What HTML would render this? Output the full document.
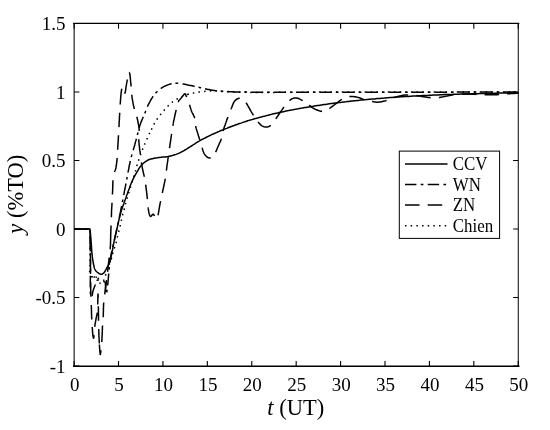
<!DOCTYPE html>
<html><head><meta charset="utf-8"><style>
html,body{margin:0;padding:0;background:#fff;width:550px;height:430px;overflow:hidden}
svg{display:block}
</style></head><body>
<svg width="550" height="430" viewBox="0 0 550 430">
<rect width="550" height="430" fill="#fff"/>
<g fill="none" stroke="#000" stroke-width="1.5" stroke-linejoin="round" stroke-linecap="butt">
<path d="M74.0,229.0 L90.0,229.0 L90.1,230.4 L90.3,231.7 L90.4,233.1 L90.5,234.4 L90.6,235.8 L90.8,237.2 L90.9,238.6 L91.0,240.0 L91.1,241.3 L91.2,242.7 L91.3,244.2 L91.4,245.6 L91.5,247.1 L91.6,248.5 L91.7,250.0 L91.8,251.4 L91.9,252.7 L92.0,254.0 L92.2,255.4 L92.3,256.8 L92.5,258.1 L92.7,259.3 L92.9,260.6 L93.1,261.8 L93.3,263.0 L93.6,264.5 L93.9,266.0 L94.2,267.4 L94.6,268.7 L95.1,269.8 L95.7,270.7 L96.3,271.4 L97.0,272.0 L97.8,272.6 L98.6,273.2 L99.4,273.7 L100.3,274.1 L101.1,274.3 L101.8,274.2 L102.5,273.9 L103.2,273.4 L103.8,272.9 L104.6,272.0 L105.2,270.9 L105.9,269.7 L106.5,268.5 L107.1,267.5 L107.6,266.4 L108.2,265.4 L108.7,264.2 L109.2,263.0 L109.6,261.6 L110.1,260.3 L110.5,258.8 L110.9,257.4 L111.2,256.0 L111.6,254.6 L111.8,253.2 L112.1,251.7 L112.4,250.3 L112.7,248.8 L113.0,247.3 L113.3,245.9 L113.5,244.4 L113.8,242.9 L114.1,241.5 L114.4,240.0 L114.7,238.6 L115.0,237.2 L115.4,235.8 L115.7,234.4 L116.1,233.0 L116.4,231.5 L116.7,230.1 L117.0,228.7 L117.3,227.3 L117.6,225.8 L117.9,224.4 L118.3,222.9 L118.6,221.4 L118.9,220.1 L119.2,218.7 L119.6,217.4 L119.9,216.0 L120.3,214.6 L120.7,213.2 L121.0,211.9 L121.4,210.6 L121.8,209.3 L122.2,207.9 L122.7,206.5 L123.2,205.2 L123.7,203.9 L124.1,202.6 L124.6,201.3 L125.1,200.0 L125.6,198.6 L126.1,197.3 L126.5,195.9 L127.0,194.6 L127.5,193.2 L128.0,191.8 L128.5,190.5 L129.0,189.2 L129.5,187.9 L129.9,186.6 L130.4,185.3 L130.9,184.1 L131.4,182.8 L132.0,181.5 L132.5,180.3 L133.1,179.1 L133.7,177.9 L134.3,176.7 L135.0,175.5 L135.6,174.3 L136.3,173.2 L136.9,172.1 L137.7,170.8 L138.4,169.5 L139.2,168.2 L140.0,167.0 L140.9,165.9 L141.8,164.8 L142.9,163.7 L144.0,162.7 L145.2,161.8 L146.4,161.0 L147.6,160.3 L148.7,159.8 L149.9,159.3 L151.0,159.0 L152.2,158.7 L153.5,158.4 L154.7,158.1 L156.0,157.9 L157.4,157.8 L158.7,157.6 L160.0,157.5 L161.3,157.3 L162.7,157.1 L164.0,157.0 L165.3,156.9 L166.6,156.7 L168.0,156.5 L169.3,156.2 L170.6,155.9 L172.0,155.6 L173.3,155.2 L174.7,154.8 L176.0,154.4 L177.3,153.9 L178.6,153.4 L179.9,152.8 L181.1,152.2 L182.3,151.5 L183.6,150.8 L185.0,150.0 L186.1,149.4 L187.2,148.7 L188.4,147.9 L189.6,147.1 L190.9,146.3 L192.2,145.5 L193.5,144.6 L194.8,143.8 L196.1,142.9 L197.4,142.1 L198.7,141.3 L200.0,140.6 L201.2,139.9 L202.5,139.3 L203.7,138.6 L205.0,138.0 L206.2,137.3 L207.5,136.7 L208.7,136.1 L210.0,135.5 L211.2,134.9 L212.5,134.3 L213.7,133.8 L215.0,133.2 L216.4,132.6 L217.7,132.0 L219.1,131.4 L220.4,130.8 L221.8,130.3 L223.2,129.7 L224.5,129.1 L225.9,128.6 L227.3,128.1 L228.6,127.5 L230.0,127.0 L231.4,126.5 L232.7,126.0 L234.1,125.5 L235.4,125.0 L236.8,124.5 L238.2,124.0 L239.5,123.5 L240.9,123.1 L242.3,122.6 L243.6,122.1 L245.0,121.7 L246.4,121.3 L247.7,120.8 L249.1,120.4 L250.4,120.0 L251.8,119.6 L253.2,119.2 L254.5,118.8 L255.9,118.4 L257.3,118.1 L258.6,117.7 L260.0,117.3 L261.4,116.9 L262.7,116.6 L264.1,116.2 L265.4,115.9 L266.8,115.5 L268.2,115.2 L269.5,114.8 L270.9,114.5 L272.3,114.1 L273.6,113.8 L275.0,113.5 L276.4,113.2 L277.7,112.9 L279.1,112.6 L280.4,112.3 L281.8,112.0 L283.2,111.7 L284.5,111.4 L285.9,111.1 L287.3,110.8 L288.6,110.6 L290.0,110.3 L291.4,110.0 L292.7,109.8 L294.1,109.5 L295.5,109.3 L296.8,109.0 L298.2,108.8 L299.5,108.5 L300.9,108.3 L302.3,108.1 L303.6,107.8 L305.0,107.6 L306.4,107.4 L307.7,107.1 L309.1,106.9 L310.5,106.7 L311.8,106.5 L313.2,106.3 L314.5,106.0 L315.9,105.8 L317.3,105.6 L318.6,105.4 L320.0,105.2 L321.4,105.0 L322.7,104.8 L324.1,104.6 L325.5,104.4 L326.8,104.2 L328.2,104.0 L329.5,103.8 L330.9,103.6 L332.3,103.5 L333.6,103.3 L335.0,103.1 L336.4,102.9 L337.7,102.8 L339.1,102.6 L340.5,102.4 L341.8,102.3 L343.2,102.1 L344.5,101.9 L345.9,101.8 L347.3,101.6 L348.6,101.5 L350.0,101.3 L351.4,101.1 L352.7,101.0 L354.1,100.8 L355.5,100.7 L356.8,100.5 L358.2,100.4 L359.5,100.3 L360.9,100.1 L362.3,100.0 L363.6,99.8 L365.0,99.7 L366.4,99.6 L367.7,99.4 L369.1,99.3 L370.5,99.2 L371.8,99.1 L373.2,99.0 L374.5,98.9 L375.9,98.7 L377.3,98.6 L378.6,98.5 L380.0,98.4 L381.4,98.3 L382.7,98.2 L384.1,98.1 L385.5,97.9 L386.8,97.8 L388.2,97.7 L389.5,97.6 L390.9,97.5 L392.3,97.4 L393.6,97.3 L395.0,97.2 L396.4,97.1 L397.7,97.0 L399.1,96.9 L400.5,96.8 L401.8,96.8 L403.2,96.7 L404.5,96.6 L405.9,96.5 L407.3,96.5 L408.6,96.4 L410.0,96.3 L411.4,96.2 L412.7,96.1 L414.1,96.1 L415.5,96.0 L416.8,95.9 L418.2,95.9 L419.5,95.8 L420.9,95.7 L422.3,95.6 L423.6,95.6 L425.0,95.5 L426.4,95.4 L427.7,95.4 L429.1,95.3 L430.5,95.2 L431.8,95.2 L433.2,95.1 L434.5,95.0 L435.9,95.0 L437.3,94.9 L438.6,94.9 L440.0,94.8 L441.4,94.7 L442.7,94.7 L444.1,94.6 L445.5,94.6 L446.8,94.6 L448.2,94.5 L449.5,94.5 L450.9,94.4 L452.3,94.4 L453.6,94.3 L455.0,94.3 L456.4,94.3 L457.7,94.2 L459.1,94.2 L460.5,94.1 L461.8,94.1 L463.2,94.1 L464.5,94.0 L465.9,94.0 L467.3,94.0 L468.6,93.9 L470.0,93.9 L471.4,93.9 L472.7,93.8 L474.1,93.8 L475.5,93.8 L476.8,93.7 L478.2,93.7 L479.5,93.6 L480.9,93.6 L482.3,93.6 L483.6,93.5 L485.0,93.5 L486.4,93.5 L487.7,93.4 L489.1,93.4 L490.4,93.4 L491.7,93.3 L493.1,93.3 L494.4,93.3 L495.8,93.2 L497.2,93.2 L498.6,93.1 L500.0,93.1 L501.3,93.1 L502.7,93.0 L504.1,93.0 L505.5,92.9 L506.9,92.9 L508.3,92.8 L509.7,92.8 L511.2,92.7 L512.6,92.7 L514.0,92.6 L515.5,92.6 L516.9,92.5 L518.3,92.5"/>
<path d="M74.0,229.0 L79.8,229.0 M83.7,229.0 L86.4,229.0 M90.0,229.8 L90.0,230.4 L90.0,231.9 L90.1,233.3 L90.1,234.7 L90.1,236.2 L90.1,237.6 L90.2,239.0 L90.2,240.4 L90.2,241.7 M90.3,245.6 L90.3,246.2 L90.3,247.6 L90.3,248.3 M90.4,252.8 L90.4,253.3 L90.4,254.8 L90.4,256.2 L90.4,257.6 L90.5,259.1 L90.5,260.5 L90.5,262.0 L90.5,263.5 L90.5,264.7 M90.5,268.6 L90.5,270.4 L90.5,271.3 M90.4,275.7 L90.4,276.1 L90.4,278.0 L90.3,279.9 L90.3,281.8 L90.3,283.6 L90.3,285.4 L90.3,287.1 L90.3,287.6 M90.3,291.5 L90.3,291.6 L90.4,292.9 L90.4,294.0 L90.4,294.2 M92.0,295.9 L92.2,295.4 L92.4,294.6 L92.5,293.8 L92.6,292.8 L92.8,291.9 L93.0,291.0 L93.3,290.1 L93.6,289.2 L93.9,288.3 L94.3,287.3 L94.6,286.4 L95.0,285.5 L95.4,284.5 M96.8,280.9 L97.0,280.5 L97.5,280.0 L97.8,279.9 L98.1,280.0 L98.5,280.1 L98.8,280.2 L98.9,280.3 M103.2,281.4 L103.5,281.5 L103.8,281.6 L104.0,281.6 L104.3,281.6 L104.6,281.7 L104.8,281.8 L105.0,282.0 L105.2,282.5 L105.4,283.2 L105.4,284.1 L105.5,285.1 L105.5,286.1 L105.5,287.0 L105.5,288.3 L105.6,289.7 L105.5,291.3 L105.6,291.9 M106.6,292.5 L106.7,292.2 L106.9,291.1 L107.1,289.9 L107.1,289.8 M107.6,285.4 L107.6,285.0 L107.8,284.0 L107.9,283.0 L108.0,282.0 L108.1,281.0 L108.2,280.0 L108.3,278.7 L108.4,277.5 L108.5,276.1 L108.6,274.8 L108.7,273.5 M109.0,269.7 L109.1,269.2 L109.3,267.8 L109.4,267.0 M109.9,262.6 L110.0,262.0 L110.2,260.6 L110.4,259.1 L110.6,257.7 L110.9,256.2 L111.1,254.8 L111.3,253.4 L111.6,252.0 L111.8,250.8 M112.7,247.0 L112.7,246.9 L113.0,245.6 L113.3,244.4 M114.3,240.0 L114.5,239.1 L114.8,237.8 L115.1,236.5 L115.4,235.2 L115.7,233.8 L116.0,232.5 L116.3,231.1 L116.6,229.8 L116.9,228.5 M117.8,224.7 L117.9,224.3 L118.2,222.9 L118.4,222.0 M119.3,217.7 L119.3,217.4 L119.6,216.0 L119.9,214.6 L120.2,213.2 L120.5,211.8 L120.7,210.4 L121.0,209.0 L121.3,207.6 L121.6,206.1 L121.6,206.0 M122.3,202.1 L122.4,201.8 L122.7,200.3 L122.8,199.5 M123.7,195.1 L123.8,194.6 L124.1,193.2 L124.3,191.8 L124.6,190.4 L124.9,189.0 L125.2,187.6 L125.5,186.2 L125.7,184.9 L126.0,183.5 L126.0,183.5 M126.7,179.6 L126.8,179.3 L127.0,177.9 L127.2,177.0 M128.0,172.6 L128.0,172.5 L128.3,171.0 L128.6,169.6 L128.9,168.1 L129.1,166.6 L129.4,165.2 L129.7,163.8 L130.0,162.5 L130.3,161.2 L130.4,160.9 M131.3,157.1 L131.4,156.5 L131.7,155.4 L131.9,154.5 M133.2,150.3 L133.4,149.6 L133.7,148.4 L134.1,147.1 L134.5,145.8 L134.9,144.4 L135.2,143.0 L135.6,141.6 L136.0,140.3 L136.3,139.1 L136.4,138.8 M137.4,135.0 L137.4,134.7 L137.7,133.6 L138.0,132.5 L138.0,132.4 M139.1,128.1 L139.3,127.5 L139.6,126.3 L140.0,125.0 L140.5,123.7 L141.0,122.3 L141.6,120.9 L142.1,119.6 L142.7,118.3 L143.2,117.1 L143.3,116.9 M144.8,113.4 L145.0,112.9 L145.3,112.1 L145.6,111.2 L145.8,110.8 M147.4,106.7 L147.8,105.8 L148.2,104.9 L148.6,104.1 L149.1,103.2 L149.5,102.4 L150.0,101.5 L150.5,100.6 L151.0,99.7 L151.5,98.8 L152.1,97.9 L152.6,97.0 L153.1,96.3 M155.5,93.2 L155.9,92.8 L156.5,92.2 L157.2,91.5 L157.4,91.3 M160.7,88.5 L161.0,88.3 L161.8,87.8 L162.6,87.3 L163.4,86.8 L164.3,86.4 L165.1,86.0 L166.0,85.6 L166.9,85.2 L167.8,84.9 L168.7,84.6 L169.6,84.3 L170.6,84.0 L171.5,83.8 L171.6,83.8 M175.4,83.3 L176.1,83.3 L177.0,83.3 L178.0,83.3 L178.1,83.4 M182.5,83.9 L183.0,84.0 M183.0,84.0 L183.9,84.1 L184.7,84.3 L185.5,84.5 L186.3,84.6 L187.1,84.8 L188.0,85.0 L189.0,85.2 L190.0,85.4 L191.0,85.6 L192.0,85.8 L193.0,86.0 L194.0,86.2 L194.7,86.3 M198.5,87.3 L198.6,87.3 L199.5,87.5 L200.4,87.7 L201.1,87.9 M205.0,88.8 L206.0,89.0 L207.0,89.2 L208.0,89.4 L209.0,89.6 L210.0,89.8 L211.0,90.0 L212.0,90.2 L212.9,90.3 L213.9,90.4 L214.8,90.6 L215.9,90.7 L216.7,90.8 M220.6,91.1 L220.9,91.1 L222.4,91.3 L223.3,91.3 M227.7,91.6 L228.5,91.6 L228.6,91.6 M228.6,91.6 L230.0,91.7 L231.3,91.8 L232.4,91.8 L233.5,91.9 L234.6,91.9 L235.7,91.9 L236.9,92.0 L238.1,92.0 L239.5,92.0 L240.5,92.0 M244.4,92.1 L245.0,92.1 L245.6,92.1 L246.2,92.1 L246.8,92.1 L247.1,92.1 M251.3,92.2 L251.7,92.2 L252.4,92.2 L253.2,92.2 L254.0,92.2 L254.8,92.2 L255.7,92.2 L256.5,92.2 L257.4,92.2 L258.3,92.2 L259.2,92.2 L260.2,92.2 L261.1,92.2 L262.1,92.2 L263.1,92.2 L263.2,92.2 M267.1,92.2 L267.1,92.2 L268.2,92.3 L269.3,92.3 L269.8,92.3 M274.2,92.3 L274.9,92.3 L276.1,92.3 L277.2,92.3 L278.4,92.3 L279.6,92.3 L280.9,92.3 L282.1,92.3 L283.4,92.3 L284.6,92.3 L285.9,92.3 L286.1,92.3 M290.0,92.3 L291.1,92.3 L292.5,92.3 L292.7,92.3 M297.1,92.3 L298.0,92.3 L299.4,92.3 L300.8,92.3 L302.2,92.3 L303.6,92.3 L305.1,92.3 L306.5,92.3 L308.0,92.3 L309.0,92.3 M312.9,92.3 L314.0,92.3 L315.5,92.3 L315.6,92.3 M320.0,92.3 L320.1,92.3 L321.7,92.3 L323.2,92.3 L324.8,92.3 L326.4,92.3 L328.0,92.3 L329.6,92.3 L331.2,92.3 L331.9,92.3 M335.8,92.3 L336.1,92.3 L337.7,92.3 L338.5,92.3 M342.9,92.3 L344.3,92.3 L346.0,92.3 L347.7,92.3 L349.4,92.3 L351.0,92.3 L352.7,92.3 L354.5,92.3 L354.8,92.3 M358.7,92.3 L359.6,92.3 L361.3,92.3 L361.4,92.3 M366.1,92.3 L366.5,92.3 L368.3,92.3 L370.0,92.3 L371.8,92.3 L373.5,92.3 L375.3,92.3 L377.0,92.3 L378.0,92.3 M381.9,92.2 L382.4,92.2 L384.1,92.2 L384.6,92.2 M389.3,92.2 L389.5,92.2 L391.3,92.2 L393.1,92.2 L394.9,92.2 L396.6,92.2 L398.4,92.2 L400.2,92.2 L401.2,92.2 M405.1,92.2 L405.6,92.2 L407.4,92.2 L407.8,92.2 M412.0,92.2 L412.8,92.2 L414.6,92.2 L416.4,92.2 L418.2,92.2 L420.0,92.2 L421.8,92.2 L423.6,92.2 L423.9,92.2 M427.8,92.2 L429.0,92.2 L430.5,92.2 M435.2,92.2 L436.2,92.2 L438.0,92.2 L439.8,92.2 L441.6,92.2 L443.4,92.2 L445.1,92.2 L446.9,92.2 L447.1,92.2 M451.0,92.2 L452.2,92.2 L453.7,92.1 M457.9,92.1 L459.3,92.1 L461.0,92.1 L462.8,92.1 L464.5,92.1 L466.2,92.1 L468.0,92.1 L469.7,92.1 L469.8,92.1 M473.7,92.1 L474.8,92.1 L476.4,92.1 M480.9,92.1 L481.6,92.1 L483.3,92.1 L485.0,92.1 L486.6,92.1 L488.3,92.1 L489.9,92.1 L491.6,92.1 L492.8,92.1 M496.7,92.1 L498.1,92.1 L499.4,92.1 M503.9,92.1 L504.5,92.1 L506.0,92.1 L507.6,92.1 L509.2,92.1 L510.7,92.1 L512.2,92.1 L513.8,92.1 L515.3,92.1 L515.8,92.1"/>
<path d="M75.2,229.0 L89.7,229.0 M90.1,236.9 L90.1,237.6 L90.1,239.0 L90.1,240.4 L90.2,241.9 L90.2,243.3 L90.2,244.7 L90.2,246.2 L90.2,247.6 L90.2,249.0 L90.3,250.4 L90.3,251.4 M90.4,259.6 L90.4,260.5 L90.4,262.0 L90.4,263.5 L90.4,265.0 L90.5,266.5 L90.5,268.1 L90.5,269.6 L90.5,271.3 L90.5,272.9 L90.5,274.1 M90.6,282.3 L90.6,282.6 L90.7,284.1 L90.7,285.6 L90.7,287.1 L90.7,288.6 L90.7,290.0 L90.8,291.3 L90.8,292.6 L90.8,293.8 L90.8,294.9 L90.9,296.0 L90.9,296.8 M91.3,305.0 L91.3,306.3 L91.4,307.7 L91.4,309.2 L91.5,310.7 L91.5,312.2 L91.5,313.7 L91.6,315.2 L91.6,316.6 L91.7,318.0 L91.8,319.5 M92.2,327.0 L92.3,328.0 L92.4,329.4 L92.5,330.9 L92.6,332.4 L92.7,333.7 L92.8,335.0 L93.0,336.0 L93.1,336.5 L93.2,337.0 L93.3,337.5 L93.4,337.9 L93.5,338.1 L93.6,338.2 L93.7,338.0 L93.8,337.5 L93.9,336.7 L94.0,335.8 L94.1,335.1 M94.7,326.9 L94.8,326.3 L95.0,325.1 L95.1,323.8 L95.4,322.6 L95.6,321.4 L95.8,320.2 L96.0,319.0 L96.2,318.0 L96.4,317.1 L96.6,316.2 L96.8,315.3 L97.0,314.3 L97.2,313.3 L97.3,312.7 M97.7,304.5 L97.7,304.0 L97.8,302.4 L97.8,300.6 L97.8,298.7 L97.9,296.9 L97.9,295.4 L98.0,294.4 L98.0,294.0 L98.0,294.3 L98.1,295.0 L98.1,296.1 L98.1,297.4 L98.2,298.0 M98.3,306.2 L98.3,306.7 L98.4,308.1 L98.4,309.6 L98.4,311.0 L98.4,312.4 L98.4,313.7 L98.5,315.1 L98.5,316.5 L98.5,317.9 L98.5,319.3 L98.5,320.7 L98.5,320.7 M98.7,328.9 L98.7,329.0 L98.8,330.4 L98.8,331.8 L98.9,333.1 L98.9,334.5 L98.9,335.8 L99.0,337.0 L99.1,338.4 L99.1,339.7 L99.2,341.0 L99.3,342.3 L99.3,343.4 M99.4,344.5 L99.4,344.7 L99.5,346.0 L99.6,347.6 L99.7,349.5 L99.9,351.3 L100.0,352.9 L100.2,354.1 L100.3,354.5 L100.4,354.1 L100.6,353.1 L100.8,351.7 L100.9,350.1 M101.7,342.0 L101.8,341.3 L101.9,340.0 M101.9,340.0 L102.0,338.8 L102.0,337.5 L102.1,336.1 L102.2,334.7 L102.2,333.3 L102.3,331.8 L102.3,330.4 L102.4,328.9 L102.4,327.6 L102.5,326.3 L102.6,325.5 M103.2,317.3 L103.2,317.0 M103.2,317.0 L103.3,315.7 L103.3,314.4 L103.3,313.1 L103.4,311.7 L103.4,310.3 L103.4,308.9 L103.5,307.4 L103.5,306.0 L103.6,304.5 L103.7,303.0 L103.7,302.5 M104.7,294.4 L104.8,293.4 L105.0,292.0 L105.2,290.6 L105.4,289.2 L105.6,287.8 L105.8,286.4 L106.0,285.0 L106.2,283.6 L106.4,282.1 L106.5,280.7 L106.6,280.0 M107.6,271.9 L107.7,270.7 L107.8,269.3 L108.0,268.0 L108.2,266.5 L108.4,264.9 L108.5,263.4 L108.7,262.0 L108.9,260.5 L109.0,259.1 L109.2,257.7 L109.2,257.4 M110.1,249.3 L110.2,248.4 L110.3,247.2 L110.4,246.0 L110.5,245.0 L110.5,244.0 L110.5,243.1 L110.5,242.1 L110.6,241.1 L110.6,240.0 M110.6,240.0 L110.6,238.8 L110.7,237.6 L110.7,236.2 L110.7,234.8 L110.8,233.3 L110.8,231.8 L110.9,230.4 L110.9,229.0 L111.0,227.7 L111.0,226.5 L111.0,225.5 M111.4,217.3 L111.4,217.2 L111.4,215.8 L111.5,214.2 L111.5,212.8 L111.5,211.3 L111.6,210.0 L111.7,208.8 L111.7,207.7 L111.8,206.7 L111.9,205.6 L111.9,204.6 L112.0,203.5 L112.0,202.8 M112.4,194.6 L112.4,194.5 L112.4,193.8 L112.5,193.0 L112.6,191.8 L112.6,190.5 L112.7,189.0 L112.7,187.4 L112.8,185.8 L112.8,184.2 L112.9,182.6 L112.9,181.2 L113.0,180.2 M114.4,172.1 L114.5,171.8 L114.7,171.4 L114.8,171.0 L115.0,170.7 L115.2,170.3 L115.3,169.9 L115.5,169.5 L115.7,168.7 L115.9,167.9 L116.1,167.0 L116.2,166.0 L116.4,165.0 L116.5,164.0 L116.7,162.7 L116.8,161.4 L117.0,160.1 L117.1,158.7 L117.1,158.0 M117.7,149.8 L117.7,149.0 L117.8,147.8 L117.8,146.5 L117.9,145.2 L118.0,143.8 L118.1,142.4 L118.2,140.9 L118.3,139.5 L118.3,138.1 L118.4,136.8 L118.5,135.5 L118.5,135.3 M118.9,127.1 L119.0,126.0 L119.1,124.7 L119.1,123.3 L119.2,122.0 L119.3,120.6 L119.4,119.2 L119.4,117.8 L119.5,116.4 L119.6,115.0 L119.7,113.6 L119.7,112.7 M120.2,104.5 L120.3,103.2 M120.3,103.2 L120.4,101.8 L120.5,100.3 L120.6,98.6 L120.8,97.0 L120.9,95.4 L121.0,93.8 L121.2,92.4 L121.4,91.1 L121.5,90.0 L121.7,89.2 L121.8,88.8 L121.8,88.8 M124.5,93.6 L124.6,93.5 L124.7,93.4 L124.8,93.3 L124.9,93.1 L125.0,92.9 L125.1,92.7 L125.3,92.0 L125.5,90.9 L125.7,89.8 L125.8,88.5 L126.0,87.2 L126.2,86.0 L126.4,84.8 L126.6,83.7 L126.8,82.5 L127.0,81.3 L127.2,80.2 L127.3,79.5 M129.1,72.4 L129.1,72.4 L129.2,72.4 L129.3,72.6 L129.4,72.7 L129.5,73.0 L129.6,73.2 L129.7,73.5 L129.9,74.2 L130.0,75.0 L130.1,75.9 L130.2,76.9 L130.3,78.0 L130.4,79.0 L130.5,80.2 L130.6,81.4 L130.8,82.6 L130.9,83.9 L131.0,85.2 L131.1,86.5 L131.1,86.6 M131.8,94.7 L131.8,95.2 L132.0,96.5 L132.1,97.9 L132.3,99.2 L132.6,100.5 L132.8,101.8 L133.0,103.0 L133.2,104.1 L133.4,105.2 L133.7,106.2 L133.9,107.2 L134.2,108.2 L134.3,109.0 M136.8,116.8 L136.9,117.1 L137.1,117.9 L137.3,118.7 L137.5,119.5 L137.7,120.3 L137.8,121.1 L138.0,122.0 L138.2,123.0 L138.4,124.0 L138.6,125.1 L138.7,126.1 L138.9,127.1 L139.0,128.0 L139.1,128.6 L139.1,129.1 L139.1,129.5 L139.2,130.0 L139.2,130.5 L139.2,131.0 L139.2,131.1 M138.8,139.3 L138.8,139.4 L138.8,139.9 M138.8,139.9 L138.8,140.8 L138.9,141.8 L139.0,142.9 L139.1,144.0 L139.2,145.0 L139.3,146.0 L139.4,146.7 L139.5,147.4 L139.5,148.0 L139.6,148.6 L139.7,149.3 L139.8,150.0 L139.9,150.9 L140.1,151.9 L140.2,152.9 L140.3,154.0 L140.4,154.3 M141.4,162.4 L141.5,163.1 L141.6,164.3 L141.8,165.5 L142.1,166.6 L142.3,167.8 L142.5,169.0 L142.8,170.2 L143.1,171.5 L143.4,172.8 L143.7,174.1 L144.0,175.3 L144.2,176.4 L144.2,176.7 M145.6,184.7 L145.7,185.2 L145.9,186.2 L146.0,187.3 L146.2,188.5 L146.3,189.7 L146.5,190.8 L146.6,192.0 L146.7,193.2 L146.9,194.4 L147.0,195.6 L147.1,196.8 L147.3,198.0 L147.4,199.1 M148.1,207.3 L148.2,208.2 M148.2,208.2 L148.4,209.5 L148.6,210.9 L148.8,212.2 L149.1,213.4 L149.4,214.5 L149.7,215.3 L149.9,215.6 L150.0,215.9 L150.2,216.1 L150.4,216.2 L150.6,216.4 L150.8,216.4 L151.0,216.3 L151.2,216.2 L151.4,215.9 L151.6,215.7 L151.8,215.4 L152.0,215.2 L152.1,215.0 L152.2,214.8 L152.3,214.6 L152.5,214.4 L152.6,214.3 L152.7,214.2 L152.8,214.2 L153.0,214.2 L153.2,214.2 L153.3,214.2 L153.5,214.3 L153.6,214.4 L153.7,214.5 L153.8,214.7 L153.9,214.9 L154.0,215.1 L154.0,215.4 L154.1,215.6 L154.2,215.9 L154.2,216.0 M157.9,215.3 L158.2,214.4 L158.4,213.3 L158.6,212.2 L158.8,210.9 L159.0,209.7 L159.2,208.5 L159.4,207.3 L159.6,206.2 L159.8,205.1 L160.0,203.9 L160.3,202.7 L160.5,201.5 L160.6,201.1 M162.3,193.0 L162.4,192.6 L162.6,191.4 L162.9,190.3 L163.1,189.3 L163.3,188.2 L163.6,187.1 L163.8,186.0 L164.0,184.9 L164.3,183.7 L164.5,182.5 L164.8,181.4 L165.0,180.2 L165.2,179.0 L165.2,178.8 M166.3,170.7 L166.5,169.7 L166.7,168.3 L166.8,167.0 L167.0,165.6 L167.2,164.3 L167.4,163.0 L167.6,161.7 L167.8,160.5 L167.9,159.2 L168.1,158.0 L168.3,156.8 L168.4,156.4 M169.5,148.2 L169.6,147.5 L169.8,146.2 L170.0,144.8 L170.2,143.4 L170.4,142.1 L170.6,140.7 L170.8,139.3 L171.0,138.0 L171.2,136.6 L171.4,135.3 L171.6,133.9 L171.6,133.9 M172.8,125.8 L173.0,124.9 L173.1,124.0 M173.1,124.0 L173.2,123.7 L173.4,122.5 L173.6,121.4 L173.8,120.3 L174.1,119.2 L174.3,118.1 L174.6,117.1 L174.8,116.0 L175.0,114.9 L175.3,113.8 L175.5,112.7 L175.8,111.6 L176.0,110.6 L176.1,109.8 M178.0,101.9 L178.3,101.6 L178.5,101.2 L178.8,100.7 L179.2,100.3 L179.7,99.8 L180.1,99.3 L180.6,98.8 L181.0,98.3 L181.5,97.6 L182.1,96.8 L182.7,96.0 L183.3,95.3 L183.8,94.6 L184.3,94.2 L184.5,94.1 L184.6,94.0 L184.8,93.9 L184.9,93.8 L185.1,93.8 L185.2,93.8 L185.4,93.9 L185.5,94.2 L185.6,94.5 L185.7,94.9 L185.9,95.2 L186.0,95.6 L186.2,96.1 L186.5,96.6 L186.6,97.0 M189.5,104.7 L189.8,105.5 L190.1,106.7 L190.5,107.9 L190.9,109.2 L191.3,110.4 L191.7,111.5 L192.1,112.5 L192.6,113.5 L193.2,114.5 L193.6,115.4 L194.1,116.3 L194.4,117.2 L194.6,117.9 L194.6,118.2 M195.6,126.0 L195.9,127.2 L196.2,128.4 L196.6,129.7 L197.0,131.0 L197.4,132.2 L197.8,133.5 L198.2,134.7 L198.5,135.9 L198.9,137.1 L199.3,138.3 L199.6,139.4 L199.7,139.9 M202.1,147.7 L202.2,148.0 L202.4,148.7 L202.6,149.3 L202.8,150.0 L203.0,150.7 L203.3,151.4 L203.5,152.0 L203.7,152.5 L204.0,153.1 L204.2,153.6 L204.5,154.1 L204.8,154.5 L205.1,155.0 L205.4,155.4 L205.8,155.9 L206.2,156.3 L206.6,156.7 L207.1,157.0 L207.5,157.3 L207.9,157.5 L208.4,157.7 L208.9,157.8 L209.4,157.9 L209.9,157.9 L210.3,157.9 L210.6,157.9 L210.7,157.9 M215.6,152.1 L216.1,151.1 L216.6,150.1 L217.0,148.9 L217.5,147.8 L218.0,146.6 L218.5,145.5 L219.0,144.4 L219.5,143.2 L220.1,142.0 L220.6,140.9 L221.0,139.8 L221.4,138.8 M223.2,130.8 L223.3,130.6 L223.5,129.8 L223.7,128.9 L224.0,127.9 L224.3,127.0 L224.7,126.0 L225.1,125.0 L225.4,124.0 L225.8,123.0 L226.1,122.0 L226.5,121.0 L226.8,120.1 L227.1,119.1 L227.5,118.1 L227.8,117.2 L227.8,117.1 M230.8,109.4 L231.1,108.8 M231.1,108.8 L231.6,107.7 L232.1,106.4 L232.6,105.1 L233.1,103.8 L233.7,102.6 L234.3,101.6 L234.7,101.0 L235.2,100.5 L235.6,100.1 L236.1,99.7 L236.5,99.3 L237.0,99.0 L237.4,98.8 L237.8,98.6 L238.3,98.5 L238.7,98.3 L239.1,98.3 L239.5,98.2 L239.7,98.2 M246.1,102.7 L246.3,103.1 L246.9,104.0 L247.5,105.0 L248.1,106.1 L248.8,107.3 L249.4,108.4 L250.0,109.5 L250.6,110.5 L251.2,111.6 L251.8,112.6 L252.5,113.7 L253.0,114.7 L253.4,115.3 M258.0,122.0 L258.3,122.4 M258.3,122.4 L258.9,123.0 L259.6,123.7 L260.3,124.4 L261.0,125.1 L261.7,125.6 L262.5,126.1 L263.2,126.4 L263.9,126.7 L264.6,126.9 L265.3,127.0 L266.0,127.1 L266.7,127.1 L267.3,127.0 L268.0,126.8 L268.6,126.6 L269.3,126.3 L269.9,126.0 L270.4,125.6 L270.8,125.3 M275.8,118.9 L276.4,118.0 L277.1,117.0 L277.8,116.0 L278.4,115.0 L279.1,114.0 L279.8,113.0 L280.5,112.0 L281.1,111.1 L281.8,110.1 L282.4,109.2 L283.1,108.3 L283.7,107.4 L284.0,107.0 M289.5,100.6 L289.9,100.3 L290.3,99.9 L290.7,99.6 L291.1,99.3 L291.6,99.0 L292.0,98.8 L292.5,98.6 L293.0,98.4 L293.6,98.2 L294.1,98.1 L294.7,98.0 L295.2,97.9 L295.7,97.9 L296.3,97.9 L296.8,98.0 L297.4,98.2 L297.9,98.3 L298.5,98.5 L299.2,98.8 L299.8,99.1 L300.5,99.4 L301.2,99.8 L301.8,100.2 L302.5,100.6 L302.6,100.7 M309.2,105.2 L309.8,105.6 L310.4,106.1 L311.0,106.6 L311.6,107.1 L312.3,107.6 L312.9,108.0 L313.6,108.4 L314.2,108.8 L314.9,109.1 L315.6,109.4 L316.3,109.7 L317.0,110.0 L317.7,110.3 L318.5,110.5 L319.3,110.8 L320.0,111.0 L320.8,111.2 L321.5,111.3 L322.0,111.4 L322.1,111.4 M329.4,108.6 L329.5,108.5 L330.1,108.0 M330.1,108.0 L330.9,107.4 L331.7,106.8 L332.6,106.2 L333.4,105.6 L334.2,105.0 L335.0,104.4 L335.5,104.0 L336.0,103.6 L336.5,103.2 L337.0,102.8 L337.5,102.4 L338.0,102.0 L338.6,101.6 L339.2,101.1 L339.8,100.7 L340.4,100.3 L341.0,99.9 L341.6,99.5 L341.8,99.4 M349.4,96.6 L350.0,96.5 M350.0,96.5 L351.0,96.5 L352.0,96.5 L353.1,96.6 L354.2,96.7 L355.2,96.8 L356.2,97.0 L356.9,97.1 L357.5,97.3 L358.2,97.4 L358.8,97.6 L359.4,97.8 L360.0,98.0 L360.7,98.3 L361.5,98.6 L362.2,98.9 L363.0,99.3 L363.7,99.6 L364.0,99.7 M372.1,101.5 L372.8,101.6 L373.6,101.8 L374.3,101.9 L375.1,102.0 L375.8,102.1 L376.6,102.2 L377.3,102.2 L378.1,102.2 L378.8,102.1 L379.5,102.0 L380.3,101.9 L381.0,101.8 L381.8,101.7 L382.5,101.5 L383.3,101.3 L384.1,101.1 L384.8,100.9 L385.6,100.7 L386.3,100.5 L386.3,100.4 M394.0,97.6 L394.1,97.6 L395.2,97.2 L396.2,96.9 L397.2,96.6 L398.1,96.4 L399.1,96.1 L400.1,95.9 L401.0,95.7 L402.0,95.5 L402.9,95.3 L403.9,95.2 L404.8,95.1 L405.7,95.0 L406.7,94.9 L407.6,94.9 L408.2,94.9 M416.4,95.5 L417.1,95.6 L418.1,95.7 L419.1,95.9 L420.1,96.1 L421.1,96.3 L422.1,96.5 L423.0,96.7 L424.0,96.8 L425.0,97.0 L425.9,97.1 L426.9,97.3 L427.8,97.4 L428.8,97.5 L429.7,97.6 L430.6,97.7 L430.7,97.7 M438.9,97.5 L439.5,97.4 M439.5,97.4 L440.6,97.2 L441.9,97.0 L443.1,96.8 L444.4,96.5 L445.7,96.2 L447.0,96.0 L448.2,95.8 L449.4,95.5 L450.6,95.3 L451.8,95.0 L453.0,94.8 L453.7,94.7 M461.9,93.9 L462.2,93.9 L463.3,93.9 L464.5,93.9 L465.7,93.9 L466.8,94.0 L468.0,94.0 L469.2,94.0 L470.3,94.1 L471.4,94.1 L472.6,94.2 L473.8,94.2 L475.0,94.3 L476.4,94.4 L476.4,94.4 M484.6,94.7 L485.0,94.7 L486.2,94.7 L487.4,94.8 L488.6,94.8 L489.7,94.8 L490.9,94.8 L492.0,94.8 L493.1,94.8 L494.1,94.8 L495.1,94.7 L496.1,94.7 L497.2,94.7 L498.2,94.6 L499.1,94.5 M507.2,93.9 L508.0,93.8 L509.0,93.8 L510.0,93.7 L511.0,93.6 L512.2,93.5 L513.4,93.5 L514.6,93.4 L515.8,93.3 L517.1,93.3 L518.3,93.2"/>
<path d="M74.8,229.0 L76.3,229.0 M80.5,229.0 L82.0,229.0 M86.2,229.0 L87.7,229.0 M90.0,230.9 L90.0,231.9 L90.0,232.4 M90.0,236.6 L90.0,237.9 L90.0,238.1 M90.0,242.3 L90.0,242.5 L90.0,243.8 M90.1,248.0 L90.1,248.6 L90.1,249.5 M90.1,253.7 L90.1,254.3 L90.1,255.2 M90.1,259.4 L90.1,259.6 L90.1,260.8 L90.1,260.9 M90.0,265.1 L90.0,265.6 L89.9,266.6 M89.7,270.8 L89.7,270.9 L89.6,272.3 M90.1,276.4 L90.2,276.5 L90.5,276.7 L90.8,276.8 L91.1,276.8 L91.4,276.7 M91.4,276.7 L91.4,276.7 L91.8,276.7 L92.1,276.7 L92.4,276.7 L92.8,276.8 L92.9,276.8 M93.5,276.9 L93.9,277.0 L94.2,277.0 L94.5,277.0 L94.9,277.0 L95.0,277.0 M95.5,277.1 L95.5,277.1 L95.9,277.1 L96.2,277.2 L96.5,277.3 L96.9,277.5 L96.9,277.5 M97.7,277.9 L97.9,278.1 L98.2,278.4 L98.6,279.1 L98.6,279.1 M99.7,282.5 L99.9,283.0 L100.3,283.5 L100.6,283.6 M103.4,280.9 L103.6,280.5 L103.9,279.8 L104.0,279.5 M105.5,275.6 L105.5,275.4 L105.9,274.4 L106.0,274.2 M107.3,270.2 L107.6,269.5 L107.8,268.8 M109.2,264.8 L109.4,264.1 L109.7,263.4 M111.2,259.5 L111.2,259.4 L111.4,258.8 L111.6,258.3 L111.6,258.1 M112.6,254.0 L112.8,253.3 L113.0,252.6 M114.2,248.5 L114.3,248.3 L114.6,247.4 L114.7,247.1 M115.9,243.1 L116.0,242.9 L116.2,242.0 L116.3,241.6 M117.2,237.5 L117.4,236.8 L117.6,236.1 M118.6,232.0 L118.8,231.2 L119.0,230.6 M120.0,226.5 L120.2,225.6 L120.3,225.0 M121.3,220.9 L121.3,220.9 L121.5,219.9 L121.6,219.5 M122.6,215.4 L122.7,214.9 L122.9,214.0 L123.0,213.9 M124.1,209.9 L124.1,209.8 L124.3,208.9 L124.4,208.4 M125.5,204.3 L125.5,204.2 L125.7,203.3 L125.8,202.9 M127.0,198.8 L127.0,198.7 L127.3,197.8 L127.4,197.4 M128.6,193.4 L128.7,193.0 L129.0,192.1 L129.0,192.0 M130.3,187.9 L130.4,187.5 L130.7,186.5 M131.9,182.5 L132.1,181.9 L132.4,181.1 M133.6,177.0 L133.8,176.4 L134.1,175.6 M135.3,171.6 L135.4,171.3 L135.7,170.3 L135.7,170.2 M136.8,166.1 L136.9,165.6 L137.2,164.7 L137.2,164.6 M138.5,160.7 L138.8,159.8 L139.0,159.2 M140.4,155.3 L140.7,154.5 L140.9,153.9 M142.4,149.9 L142.6,149.3 L142.9,148.5 M144.5,144.6 L144.7,144.1 L145.1,143.3 M146.8,139.4 L147.0,138.9 L147.4,138.0 M149.0,134.2 L149.3,133.6 L149.7,132.8 M151.3,129.6 L151.6,129.2 L152.0,128.3 L152.0,128.3 M153.8,124.5 L154.1,124.0 L154.5,123.2 L154.5,123.2 M156.7,119.6 L157.0,119.3 L157.5,118.5 L157.6,118.4 M160.2,115.0 L160.4,114.7 L161.0,114.0 L161.1,113.9 M163.8,110.7 L164.3,110.1 L164.8,109.5 M167.7,106.5 L168.1,105.9 L168.7,105.4 M171.8,102.5 L172.3,102.1 L172.9,101.6 M176.5,99.4 L177.2,99.0 L177.8,98.7 M181.6,96.8 L182.2,96.6 L183.0,96.2 M186.9,94.6 L187.2,94.5 L187.3,94.5 M187.3,94.5 L188.1,94.2 L188.8,94.0 M192.8,93.0 L193.0,93.0 L194.0,92.8 L194.3,92.7 M198.4,92.0 L198.6,92.0 L199.5,91.9 L199.9,91.8 M204.1,91.4 L204.5,91.4 L205.5,91.3 L205.6,91.3 M209.8,91.0 L210.0,91.0 L211.0,91.0 L211.3,91.0 M215.5,91.1 L215.6,91.1 L216.8,91.1 L217.0,91.2 M221.2,91.4 L221.9,91.4 L222.7,91.5 M226.9,91.7 L227.4,91.8 L227.5,91.8 M227.5,91.8 L228.7,91.8 L229.0,91.8 M233.2,92.0 L234.5,92.1 L234.7,92.1 M238.9,92.2 L239.9,92.2 L240.4,92.2 M244.6,92.3 L245.5,92.3 L246.1,92.3 M250.2,92.4 L251.3,92.4 L251.7,92.4 M255.9,92.4 L256.9,92.4 L257.4,92.4 M261.6,92.4 L262.7,92.4 L263.1,92.4 M267.3,92.4 L268.6,92.4 L268.8,92.4 M273.1,92.4 L273.9,92.4 L274.6,92.4 M278.8,92.3 L279.9,92.3 L280.3,92.3 M284.5,92.2 L286.0,92.2 M290.2,92.2 L290.7,92.2 L291.4,92.2 L291.7,92.2 M296.0,92.2 L296.1,92.2 L297.0,92.2 L297.5,92.2 M301.7,92.2 L302.5,92.2 L303.2,92.2 M307.4,92.1 L307.6,92.1 L308.7,92.1 L308.9,92.1 M313.1,92.1 L313.1,92.1 L314.3,92.1 L314.6,92.1 M318.9,92.1 L319.0,92.1 L320.3,92.1 L320.4,92.1 M324.6,92.1 L325.4,92.1 L326.1,92.1 M330.3,92.1 L330.6,92.1 L331.8,92.1 M336.0,92.1 L336.1,92.1 L337.5,92.1 M341.8,92.1 L341.8,92.1 L343.3,92.1 L343.3,92.1 M347.5,92.1 L347.7,92.1 L349.0,92.1 M353.2,92.1 L353.8,92.1 L354.7,92.1 M358.9,92.1 L360.0,92.1 L360.4,92.1 M364.6,92.1 L364.7,92.1 L365.0,92.1 M365.0,92.1 L366.3,92.1 L366.5,92.1 M370.7,92.1 L371.2,92.1 L372.2,92.1 M376.4,92.1 L377.8,92.1 L377.9,92.1 M382.1,92.1 L382.7,92.1 L383.6,92.1 M387.8,92.1 L387.8,92.1 L388.2,92.1 M388.2,92.1 L389.5,92.1 L389.7,92.1 M393.9,92.1 L394.6,92.1 L395.4,92.1 M399.6,92.1 L399.8,92.1 L401.1,92.1 M405.3,92.1 L406.7,92.1 L406.8,92.1 M410.9,92.1 L411.9,92.1 L412.4,92.1 M416.6,92.1 L417.2,92.1 L418.1,92.1 M422.3,92.1 L422.4,92.1 L423.8,92.1 M428.0,92.1 L429.5,92.1 L429.5,92.1 M433.7,92.1 L434.1,92.1 M434.1,92.1 L434.8,92.1 L435.6,92.1 M439.8,92.1 L440.1,92.1 L441.3,92.1 M445.5,92.1 L447.0,92.1 M451.2,92.1 L452.4,92.1 L452.7,92.1 M456.8,92.1 L457.6,92.1 L458.3,92.1 M462.5,92.1 L462.8,92.1 L464.0,92.1 M468.2,92.1 L469.7,92.1 M473.9,92.1 L474.8,92.1 L475.4,92.1 M479.8,92.1 L479.9,92.1 L481.3,92.1 M485.5,92.1 L486.6,92.1 L487.0,92.1 M491.2,92.1 L491.6,92.1 L492.7,92.1 M496.9,92.1 L498.1,92.1 L498.4,92.1 M502.8,92.1 L502.9,92.1 L504.3,92.1 M508.5,92.1 L509.2,92.1 L510.0,92.1 M514.2,92.1 L515.3,92.1 L515.7,92.1"/>
</g>
<g fill="none" stroke="#000" stroke-linecap="square">
<path d="M73.65,23.4 H518.8" stroke-width="1.15"/>
<path d="M73.65,366.25 H518.8" stroke-width="1.4"/>
<path d="M74.15,23.5 V366.2" stroke-width="1.05"/>
<path d="M518.27,23.5 V366.2" stroke-width="1.0"/>
</g>
<path d="M74.10,366.2 V361.0 M74.10,23.5 V28.7 M118.51,366.2 V361.0 M118.51,23.5 V28.7 M162.93,366.2 V361.0 M162.93,23.5 V28.7 M207.34,366.2 V361.0 M207.34,23.5 V28.7 M251.76,366.2 V361.0 M251.76,23.5 V28.7 M296.17,366.2 V361.0 M296.17,23.5 V28.7 M340.59,366.2 V361.0 M340.59,23.5 V28.7 M385.00,366.2 V361.0 M385.00,23.5 V28.7 M429.42,366.2 V361.0 M429.42,23.5 V28.7 M473.83,366.2 V361.0 M473.83,23.5 V28.7 M518.25,366.2 V361.0 M518.25,23.5 V28.7 M74.15,366.00 H79.4 M518.27,366.00 H513.1 M74.15,297.50 H79.4 M518.27,297.50 H513.1 M74.15,229.00 H79.4 M518.27,229.00 H513.1 M74.15,160.50 H79.4 M518.27,160.50 H513.1 M74.15,92.00 H79.4 M518.27,92.00 H513.1 M74.15,23.50 H79.4 M518.27,23.50 H513.1" fill="none" stroke="#000" stroke-width="1.1"/>
<g font-family="'Liberation Serif', serif" font-size="19" fill="#000">
<text x="74.70" y="391" text-anchor="middle">0</text>
<text x="119.11" y="391" text-anchor="middle">5</text>
<text x="163.53" y="391" text-anchor="middle">10</text>
<text x="207.94" y="391" text-anchor="middle">15</text>
<text x="252.36" y="391" text-anchor="middle">20</text>
<text x="296.77" y="391" text-anchor="middle">25</text>
<text x="341.19" y="391" text-anchor="middle">30</text>
<text x="385.61" y="391" text-anchor="middle">35</text>
<text x="430.02" y="391" text-anchor="middle">40</text>
<text x="474.43" y="391" text-anchor="middle">45</text>
<text x="518.85" y="391" text-anchor="middle">50</text>
<text x="65.6" y="372.50" text-anchor="end">-1</text>
<text x="65.6" y="304.00" text-anchor="end">-0.5</text>
<text x="65.6" y="235.50" text-anchor="end">0</text>
<text x="65.6" y="167.00" text-anchor="end">0.5</text>
<text x="65.6" y="98.50" text-anchor="end">1</text>
<text x="65.6" y="30.00" text-anchor="end">1.5</text>
</g>
<g font-family="'Liberation Serif', serif" font-size="22.5" fill="#000">
<text x="295.7" y="415" text-anchor="middle"><tspan font-style="italic">t</tspan> (UT)</text>
<text transform="translate(23.3,194.2) rotate(-90)" text-anchor="middle"><tspan font-style="italic">y</tspan> (%TO)</text>
</g>
<rect x="399.3" y="151.1" width="100.30" height="87.30" fill="#fff" stroke="#000" stroke-width="1.0"/>
<g fill="none" stroke="#000" stroke-width="1.5">
<path d="M405,163.9 H447.5"/>
<path d="M405,184.5 H447.5" stroke-dasharray="11.4,4.3,2.7,4.3"/>
<path d="M405,204.9 H447.5" stroke-dasharray="14.5,8.2"/>
<path d="M405,225.8 H447.5" stroke-dasharray="1.5,4.17"/>
</g>
<g font-family="'Liberation Serif', serif" font-size="18" fill="#000">
<text transform="translate(452.7,170.20) scale(0.94,1)">CCV</text>
<text transform="translate(452.7,190.80) scale(0.94,1)">WN</text>
<text transform="translate(452.7,211.20) scale(0.94,1)">ZN</text>
<text transform="translate(452.7,232.10) scale(0.94,1)">Chien</text>
</g>
</svg>
</body></html>
